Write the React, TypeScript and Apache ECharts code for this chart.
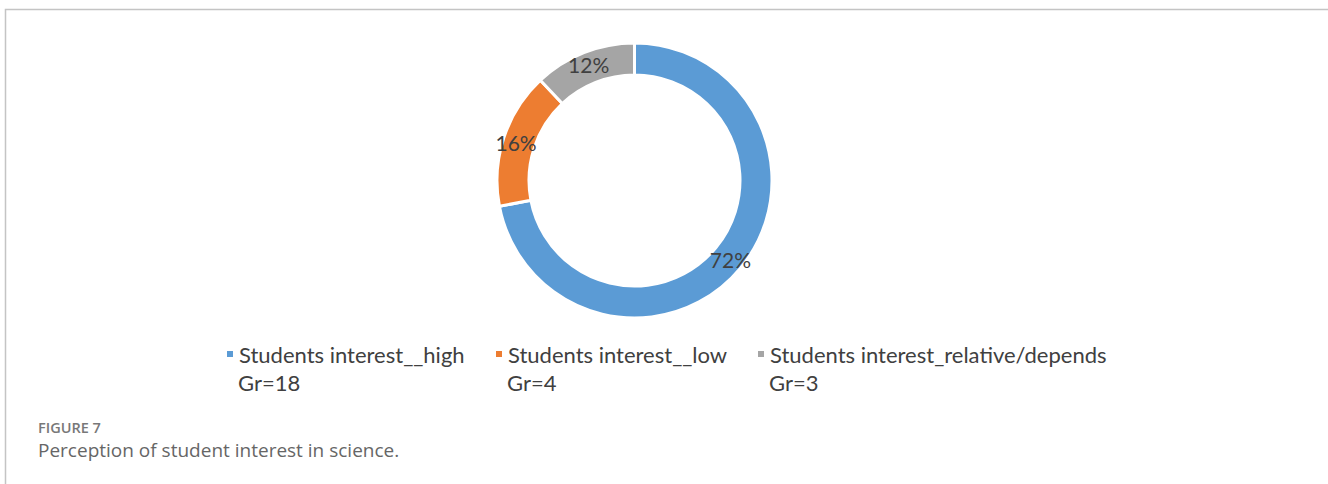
import React, { useEffect, useRef } from "react";
import * as echarts from "echarts";

const categories = [
  "Students interest__high",
  "Students interest__low",
  "Students interest_relative/depends",
];
const groupCounts = [18, 4, 3];
const sliceColors = ["#5B9BD5", "#ED7D31", "#A5A5A5"];
const figureLabel = "FIGURE 7";
const figureCaption = "Perception of student interest in science.";

const legendLefts = [225, 494, 756];

export default function App() {
  const ref = useRef<HTMLDivElement>(null);

  useEffect(() => {
    if (!ref.current) return;
    const chart = echarts.init(ref.current, null, { renderer: "svg" });
    const total = groupCounts.reduce((a, b) => a + b, 0);

    const legends = categories.map((name, i) => ({
      data: [name],
      left: legendLefts[i],
      top: 340,
      padding: 0,
      orient: "horizontal",
      icon: "rect",
      itemWidth: 8,
      itemHeight: 8,
      selectedMode: false,
      textStyle: {
        fontFamily: "Lato",
        fontSize: 22,
        lineHeight: 28,
        color: "#404040",
      },
    }));

    const groupTexts = categories.map((_, i) => ({
      type: "text",
      x: legendLefts[i] + 13,
      y: 382,
      style: {
        text: "Gr=" + groupCounts[i],
        fontFamily: "Lato",
        fontSize: 22,
        lineHeight: 24,
        fill: "#404040",
        verticalAlign: "middle",
      },
    }));

    chart.setOption({
      animation: false,
      color: sliceColors,
      legend: legends,
      graphic: [
        {
          type: "rect",
          shape: { x: 5.5, y: 9.5, width: 1500, height: 700 },
          style: { fill: "none", stroke: "#c4c4c4", lineWidth: 1.5 },
          silent: true,
        },
        ...groupTexts,
        {
          type: "text",
          x: 38,
          y: 427.5,
          style: {
            text: figureLabel,
            fontFamily: "Open Sans",
            fontWeight: 600,
            fontSize: 14.5,
            lineHeight: 15,
            fill: "#787878",
            verticalAlign: "middle",
          },
        },
        {
          type: "text",
          x: 38,
          y: 449.5,
          style: {
            text: figureCaption,
            fontFamily: "Open Sans",
            fontSize: 19,
            lineHeight: 19,
            fill: "#666666",
            verticalAlign: "middle",
          },
        },
      ],
      series: [
        {
          type: "pie",
          center: [634.5, 180.5],
          radius: [105.5, 137.5],
          startAngle: 90,
          clockwise: true,
          avoidLabelOverlap: false,
          itemStyle: { borderColor: "#ffffff", borderWidth: 3 },
          label: {
            show: true,
            position: "inside",
            formatter: (p: any) => Math.round((p.value / total) * 100) + "%",
            fontFamily: "Lato",
            fontSize: 21,
            color: "#404040",
          },
          labelLine: { show: false },
          emphasis: { disabled: true },
          data: categories.map((name, i) => ({ name, value: groupCounts[i] })),
        },
      ],
    });

    return () => chart.dispose();
  }, []);

  return (
    <div
      ref={ref}
      style={{ position: "fixed", left: 0, top: 0, width: 1328, height: 484, background: "#fff" }}
    />
  );
}
